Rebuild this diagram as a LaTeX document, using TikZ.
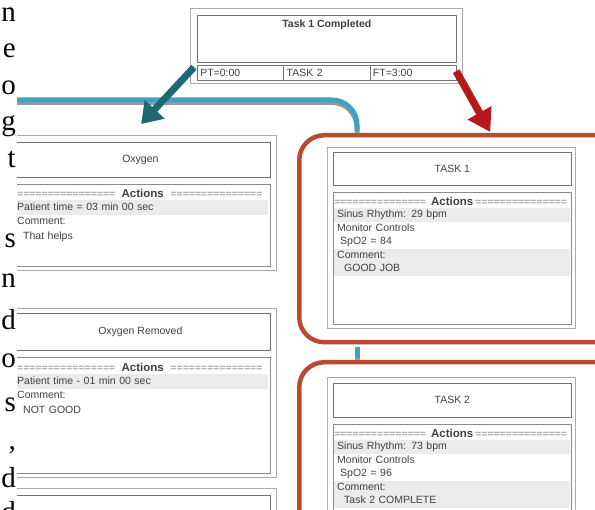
\documentclass[tikz,border=0pt]{standalone}
\usepackage{fontspec}
\setmainfont{Liberation Serif}
\newfontfamily\uifont{Liberation Sans}
\usepackage{tikz}
\usetikzlibrary{positioning,arrows.meta,shadows}

\definecolor{cardline}{HTML}{ABABAB}
\definecolor{bandgray}{HTML}{EBEBEB}
\definecolor{flowblue}{HTML}{3FA2C0}
\definecolor{arrowteal}{HTML}{1E6871}
\definecolor{arrowred}{HTML}{B5191C}
\definecolor{framered}{HTML}{BA4A30}
\definecolor{uitext}{HTML}{404040}

\newcommand{\uisize}{\uifont\fontsize{10.5}{12}\selectfont}
\newcommand{\actrule}[1]{\hbox to #1{\color{black!50}\leaders\hbox{=}\hfill\,{\color{uitext}\fontsize{11.5}{12}\bfseries Actions}\,\leaders\hbox{=}\hfill}}

\tikzset{
  edgeletter/.style={anchor=base east, inner sep=0pt, font=\fontsize{29}{35}\selectfont},
  cardframe/.style={draw=cardline, line width=1.2pt, fill=white, anchor=north west, inner sep=0pt},
  titlebox/.style={draw=black!55, line width=.7pt, fill=white, anchor=north west, inner sep=0pt, font=\uisize, text=uitext},
  listbox/.style={draw=black!45, line width=.6pt, anchor=north west, inner sep=0pt},
  actrow/.style={anchor=north west, inner sep=0pt, minimum height=14pt, font=\uisize},
  itemrow/.style={anchor=north west, inner xsep=3pt, inner ysep=0pt, text width=#1, minimum height=13.5pt, align=left, font=\uisize, text=uitext, text height=8pt, text depth=2.5pt},
  cellbox/.style={draw=black!55, line width=.6pt, anchor=north west, inner xsep=3pt, inner ysep=0pt, text width=80.33pt, minimum height=15pt, align=left, font=\uisize, text=uitext},
  taskframe/.style={draw=framered, line width=4.5pt, rounded corners=25pt, fill=white, anchor=north west, drop shadow={opacity=.3, shadow xshift=2pt, shadow yshift=-2pt}},
  flowline/.style={draw=flowblue, line width=5pt, rounded corners=25pt, preaction={draw=black!40, line width=5pt, transform canvas={yshift=-2.5pt}}},
  tealarrow/.style={draw=arrowteal, line width=7pt, -{Triangle[width=26pt,length=20pt]}},
  redarrow/.style={draw=arrowred, line width=7.5pt, -{Triangle[width=26pt,length=22pt]}},
}

\begin{document}
\begin{tikzpicture}[x=1pt,y=-1pt]
    \useasboundingbox (0,0) rectangle (595,510);

    % end of the lines of the page text
    \foreach \ch/\yb [count=\k] in {n/22, e/58, o/95, g/131, t/168, s/248, n/288, d/330, o/368, s/412, {,}/450, d/488, d/522} {
        \node[edgeletter] (word\k) at (16,\yb) {\ch};
    }

    \begin{scope}
    \clip (17,0) rectangle (595,510);

    % top card
    \node[cardframe, minimum width=272pt, minimum height=75pt] (topcard) at (190,8) {};
    \node[titlebox, minimum width=259pt, minimum height=47pt] (toptitle) at ([shift={(7pt,-7pt)}]topcard.north west) {};
    \node[anchor=north, inner sep=0pt, font=\uisize\bfseries, text=uitext] (toptext) at ([yshift=-5pt]toptitle.north) {Task 1 Completed};
    \foreach \lbl [count=\k] in {PT=0:00, TASK 2, FT=3:00} {
        \node[cellbox] (cell\k) at ([xshift={(\k-1)*86.33}, yshift=-2pt]toptitle.south west) {\lbl};
    }

    % left cards
    \node[cardframe, minimum width=271pt, minimum height=135pt] (oxcard) at (5,135) {};
    \node[titlebox, minimum width=260pt, minimum height=35pt] (oxtitle) at ([shift={(5pt,-7pt)}]oxcard.north west) {Oxygen};
    \node[listbox, minimum width=260pt, minimum height=82pt] (oxlist) at ([yshift=-6pt]oxtitle.south west) {};
    \node[actrow] (oxact) at ([shift={(7pt,-2pt)}]oxlist.north west) {\actrule{251pt}};
    \foreach \txt/\bg [count=\k] in {{Patient time = 03 min 00 sec}/bandgray, {Comment:}/white, {\hspace{6pt}That helps}/white} {
        \node[itemrow=251pt, inner xsep=0pt, fill=\bg, minimum height=14.5pt] (oxrow\k) at ([yshift={-(\k-1)*14.5}]oxact.south west) {\txt};
    }

    \node[cardframe, minimum width=271pt, minimum height=169pt] (oxrcard) at (5,308) {};
    \node[titlebox, minimum width=260pt, minimum height=37pt] (oxrtitle) at ([shift={(5pt,-5pt)}]oxrcard.north west) {Oxygen Removed};
    \node[listbox, minimum width=260pt, minimum height=116pt] (oxrlist) at ([yshift=-6pt]oxrtitle.south west) {};
    \node[actrow] (oxract) at ([shift={(7pt,-3pt)}]oxrlist.north west) {\actrule{251pt}};
    \foreach \txt/\bg [count=\k] in {{Patient time - 01 min 00 sec}/bandgray, {Comment:}/white, {\hspace{6pt}NOT GOOD}/white} {
        \node[itemrow=251pt, inner xsep=0pt, fill=\bg, minimum height=14.5pt] (oxrrow\k) at ([yshift={-(\k-1)*14.5}]oxract.south west) {\txt};
    }

    \node[cardframe, minimum width=271pt, minimum height=80pt] (nextcard) at (5,488) {};
    \node[titlebox, minimum width=260pt, minimum height=37pt] (nexttitle) at ([shift={(5pt,-7pt)}]nextcard.north west) {};

    % task frames
    \node[taskframe, minimum width=330pt, minimum height=207pt] (t1frame) at (297,133) {};
    \node[taskframe, minimum width=330pt, minimum height=250pt] (t2frame) at (297,360) {};

    \node[cardframe, minimum width=248pt, minimum height=181pt] (t1card) at (327,147) {};
    \node[titlebox, minimum width=238pt, minimum height=33pt] (t1title) at ([shift={(6pt,-5pt)}]t1card.north west) {TASK 1};
    \node[listbox, minimum width=238pt, minimum height=132pt] (t1list) at ([yshift=-6pt]t1title.south west) {};
    \node[actrow] (t1act) at ([shift={(1pt,-2pt)}]t1list.north west) {\actrule{236pt}};
    \foreach \txt/\bg [count=\k] in {{Sinus Rhythm: 29 bpm}/bandgray, {Monitor Controls}/white, {\hspace{3pt}SpO2 = 84}/white, {Comment:}/bandgray, {\hspace{7pt}GOOD JOB}/bandgray} {
        \node[itemrow=230pt, fill=\bg] (t1row\k) at ([yshift={-(\k-1)*13.5}]t1act.south west) {\txt};
    }

    \node[cardframe, minimum width=248pt, minimum height=200pt] (t2card) at (327,377) {};
    \node[titlebox, minimum width=238pt, minimum height=34pt] (t2title) at ([shift={(6pt,-6pt)}]t2card.north west) {TASK 2};
    \node[listbox, minimum width=238pt, minimum height=150pt] (t2list) at ([yshift=-6pt]t2title.south west) {};
    \node[actrow] (t2act) at ([shift={(1pt,-2pt)}]t2list.north west) {\actrule{236pt}};
    \foreach \txt/\bg [count=\k] in {{Sinus Rhythm: 73 bpm}/bandgray, {Monitor Controls}/white, {\hspace{3pt}SpO2 = 96}/white, {Comment:}/bandgray, {\hspace{7pt}Task 2 COMPLETE}/bandgray} {
        \node[itemrow=230pt, fill=\bg] (t2row\k) at ([yshift={-(\k-1)*13.5}]t2act.south west) {\txt};
    }

    % connectors
    \coordinate (flowstart) at (-5,100);
    \draw[flowline] (flowstart) -| ([xshift=60pt, yshift=2.3pt]t1frame.north west);
    \draw[flowline] ([xshift=60pt, yshift=-2.3pt]t1frame.south west) -- ([xshift=60pt, yshift=2.3pt]t2frame.north west);

    \draw[tealarrow] ([shift={(4pt,17pt)}]topcard.south west) -- ([yshift=11pt]oxcard.north);
    \draw[redarrow] ([shift={(-7pt,13pt)}]topcard.south east) -- ([xshift=26pt, yshift=1pt]t1frame.north);
    \end{scope}
\end{tikzpicture}
\end{document}
